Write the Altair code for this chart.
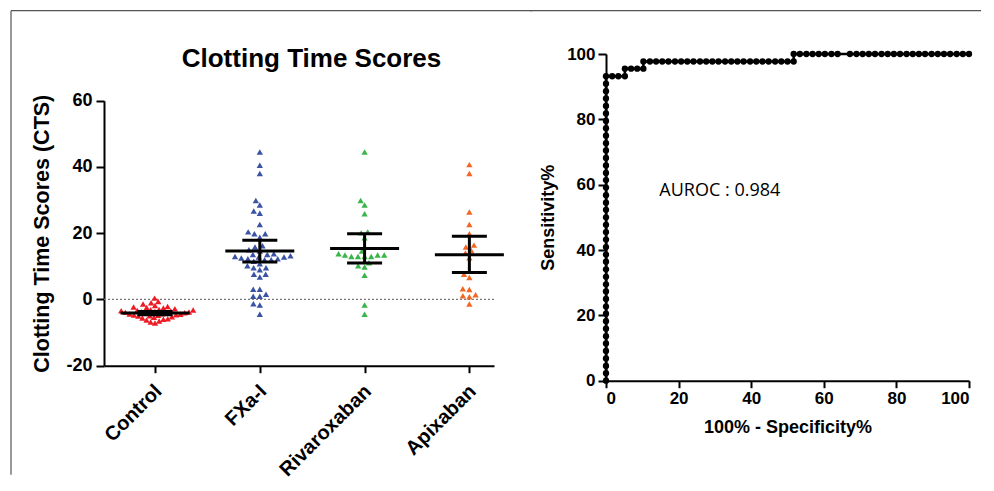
import math
import altair as alt
import pandas as pd

# ---------------- data ----------------
categories = ["Control", "FXa-I", "Rivaroxaban", "Apixaban"]
group_colors = ["#ed1c24", "#3a53a4", "#3ab54a", "#f26522"]

control_cts = [0.4, -0.6, -1.0, -1.4, -1.8, -2.1, -2.3, -2.6, -2.8, -3.0,
               -3.1, -3.3, -3.4, -3.5, -3.6, -3.7, -3.8, -3.9, -4.0, -4.1,
               -4.2, -4.3, -4.4, -4.5, -4.6, -4.7, -4.9, -5.0, -5.2, -5.4,
               -5.6, -5.8, -6.0, -6.2, -6.5, -6.8, -7.1, -3.2, -4.8, -2.4]
fxa_cts = [44.5, 40.5, 38.0, 29.9, 28.5, 26.7, 26.0, 22.6, 20.4, 19.8,
           19.8, 18.8, 16.2, 15.8, 15.0, 14.6, 13.8, 13.6, 13.6, 13.2,
           13.0, 12.8, 12.8, 12.5, 12.3, 12.3, 12.0, 12.0, 11.5, 10.8,
           10.2, 9.6, 9.6, 9.0, 7.6, 7.6, 6.8, 3.1, 3.1, 1.6,
           1.0, 1.0, -1.3, -1.7, -4.5]
riva_cts = [44.5, 29.9, 28.5, 25.9, 20.4, 20.1, 18.6, 14.6, 13.8, 13.4,
            13.0, 13.0, 13.4, 13.0, 13.0, 13.4, 11.1, 10.2, 9.8, 7.3,
            -1.7, -4.5]
apix_cts = [40.7, 38.0, 26.4, 22.6, 19.8, 16.4, 15.8, 14.8, 14.0, 12.6,
            7.6, 6.6, 3.2, 3.0, 1.4, 1.1, 0.8, -1.4]

group_means = [-4.1, 14.6, 15.4, 13.5]
group_err_low = [-4.6, 11.3, 11.0, 8.1]
group_err_high = [-3.6, 17.9, 19.8, 19.1]

chart_title = "Clotting Time Scores"
left_y_title = "Clotting Time Scores (CTS)"

roc_fpr = [0, 0, 0, 0, 0, 0, 0, 0, 0, 0,
           0, 0, 0, 0, 0, 0, 0, 0, 0, 0,
           0, 0, 0, 0, 0, 0, 0, 0, 0, 0,
           0, 0, 0, 0, 0, 0, 0, 0, 0, 0,
           0, 0,
           1.7, 3.4, 5.2,
           5.2, 6.9, 8.6, 10.3,
           10.3, 12.1, 13.8, 15.5, 17.2, 19.0, 20.7, 22.4, 24.1, 25.9,
           27.6, 29.3, 31.0, 32.8, 34.5, 36.2, 37.9, 39.7, 41.4, 43.1,
           44.8, 46.6, 48.3, 50.0, 51.7,
           51.7, 53.4, 55.2, 56.9, 58.6, 60.3, 62.1, 63.8, 67.2, 69.0,
           70.7, 72.4, 74.1, 75.9, 77.6, 79.3, 81.0, 82.8, 84.5, 86.2,
           87.9, 89.7, 91.4, 93.1, 94.8, 96.6, 98.3, 100.0]
roc_sens = [0.0, 2.3, 4.5, 6.8, 9.1, 11.4, 13.6, 15.9, 18.2, 20.5,
            22.7, 25.0, 27.3, 29.5, 31.8, 34.1, 36.4, 38.6, 40.9, 43.2,
            45.5, 47.7, 50.0, 52.3, 54.5, 56.8, 59.1, 61.4, 63.6, 65.9,
            68.2, 70.5, 72.7, 75.0, 77.3, 79.5, 81.8, 84.1, 86.4, 88.6,
            90.9, 93.2,
            93.2, 93.2, 93.2,
            95.5, 95.5, 95.5, 95.5,
            97.7, 97.7, 97.7, 97.7, 97.7, 97.7, 97.7, 97.7, 97.7, 97.7,
            97.7, 97.7, 97.7, 97.7, 97.7, 97.7, 97.7, 97.7, 97.7, 97.7,
            97.7, 97.7, 97.7, 97.7, 97.7,
            100, 100, 100, 100, 100, 100, 100, 100, 100, 100,
            100, 100, 100, 100, 100, 100, 100, 100, 100, 100,
            100, 100, 100, 100, 100, 100, 100, 100]
auroc = 0.984
roc_x_title = "100% - Specificity%"
roc_y_title = "Sensitivity%"

# ---------------- layout constants ----------------
FONT = "Liberation Sans"
TOP = 53.3                 # page y of the shared panel origin (right plot top)
LW = 390                   # left plot width
L_TOP, L_BOT = 100 - TOP, 365 - TOP   # left plot vertical extent inside its panel
LH = L_BOT                 # left panel height
RW, RH = 363, 380 - TOP    # right plot area
FRAME_Y = 10 - TOP
X_DOMAIN = [-0.487, 3.235]
Y_DOMAIN = [-20, 60]
step_px = LW / (X_DOMAIN[1] - X_DOMAIN[0])
ypx_per_unit = (L_BOT - L_TOP) / (Y_DOMAIN[1] - Y_DOMAIN[0])


def swarm(vals, dx=6.6, dy=5.8):
    """beeswarm horizontal offsets (px) so markers do not overlap"""
    order = sorted(range(len(vals)), key=lambda i: vals[i])
    placed = []
    offs = [0.0] * len(vals)
    for i in order:
        y = vals[i] * ypx_per_unit
        cands = [0.0]
        for px, py in placed:
            d = abs(py - y)
            if d < dy:
                w = dx * math.sqrt(1 - (d / dy) ** 2)
                cands += [px + w, px - w]
        cands.sort(key=lambda c: (abs(c), c))
        chosen = cands[-1]
        for c in cands:
            if all(((c - px) / dx) ** 2 + ((y - py) / dy) ** 2 >= 0.999
                   for px, py in placed):
                chosen = c
                break
        placed.append((chosen, y))
        offs[i] = chosen
    return offs


swarm_dx = [4.4, 6.6, 6.6, 6.6]
rows = []
for gi, (cat, vals) in enumerate(zip(categories, [control_cts, fxa_cts, riva_cts, apix_cts])):
    for v, o in zip(vals, swarm(vals, dx=swarm_dx[gi])):
        rows.append({"group": cat, "idx": gi, "cts": v, "xpos": gi + o / step_px})
pts = pd.DataFrame(rows)
stats = pd.DataFrame({"group": categories, "idx": list(range(len(categories))),
                      "mean": group_means, "lo": group_err_low, "hi": group_err_high})
one = pd.DataFrame({"a": [0]})

label_expr = "[" + ",".join("'" + c + "'" for c in categories) + "][datum.value]"

xs = alt.Scale(domain=X_DOMAIN, nice=False, zero=False)
ys = alt.Scale(domain=Y_DOMAIN, nice=False, zero=False, range=[L_BOT, L_TOP])

x_axis = alt.Axis(values=list(range(len(categories))), labelExpr=label_expr,
                  labelAngle=-45, title=None, grid=False, labelFontSize=20,
                  labelPadding=8, labelOffset=-4, tickSize=7)
y_axis = alt.Axis(values=[-20, 0, 20, 40, 60], labelExpr="'' + datum.value",
                  title=left_y_title, grid=False,
                  labelFontSize=18, titleFontSize=21.5, tickSize=8, labelPadding=4,
                  titlePadding=12)

zero_line = alt.Chart(one).mark_rule(color="#777777", strokeDash=[2, 2], strokeWidth=1.3).encode(
    y=alt.Y("z:Q", scale=ys, axis=y_axis)
).transform_calculate(z="0")

points = alt.Chart(pts).mark_point(shape="triangle-up", filled=True, size=40, opacity=1).encode(
    x=alt.X("xpos:Q", scale=xs, axis=x_axis),
    y=alt.Y("cts:Q", scale=ys, axis=y_axis),
    color=alt.Color("group:N", scale=alt.Scale(domain=categories, range=group_colors), legend=None),
)

mean_ticks = alt.Chart(stats).mark_tick(orient="horizontal", size=69, thickness=3,
                                        color="black", opacity=1).encode(
    x=alt.X("idx:Q", scale=xs, axis=x_axis), y=alt.Y("mean:Q", scale=ys, axis=y_axis))
err_rule = alt.Chart(stats).mark_rule(strokeWidth=3, color="black").encode(
    x=alt.X("idx:Q", scale=xs, axis=x_axis), y=alt.Y("lo:Q", scale=ys, axis=y_axis), y2="hi:Q")
cap_lo = alt.Chart(stats).mark_tick(orient="horizontal", size=35, thickness=3,
                                    color="black", opacity=1).encode(
    x=alt.X("idx:Q", scale=xs, axis=x_axis), y=alt.Y("lo:Q", scale=ys, axis=y_axis))
cap_hi = alt.Chart(stats).mark_tick(orient="horizontal", size=35, thickness=3,
                                    color="black", opacity=1).encode(
    x=alt.X("idx:Q", scale=xs, axis=x_axis), y=alt.Y("hi:Q", scale=ys, axis=y_axis))

frame_left_v = alt.Chart(one).mark_rule(color="#555555", strokeWidth=1.2).encode(
    x=alt.value(-93), y=alt.value(FRAME_Y), y2=alt.value(474 - TOP))
frame_left_h = alt.Chart(one).mark_rule(color="#555555", strokeWidth=1.2).encode(
    x=alt.value(-93), x2=alt.value(428.2), y=alt.value(FRAME_Y))
title_text = alt.Chart(one).mark_text(font=FONT, fontWeight="bold", fontSize=26,
                                      color="black", align="center", baseline="middle").encode(
    x=alt.value(207.5), y=alt.value(58 - TOP), text=alt.value(chart_title))

left = alt.layer(zero_line, points, err_rule, mean_ticks, cap_lo, cap_hi,
                 frame_left_v, frame_left_h, title_text).properties(width=LW, height=LH)

# ---------------- right ROC panel ----------------
roc = pd.DataFrame({"fpr": roc_fpr, "sens": roc_sens, "order": list(range(len(roc_fpr)))})
rx = alt.Scale(domain=[0, 100], nice=False)
ry = alt.Scale(domain=[0, 100], nice=False)
rx_axis = alt.Axis(values=[0, 20, 40, 60, 80, 100], title=roc_x_title, grid=False,
                   labelFontSize=17, titleFontSize=18, tickSize=7, labelPadding=3, titlePadding=12)
ry_axis = alt.Axis(values=[0, 20, 40, 60, 80, 100], title=roc_y_title, grid=False,
                   labelFontSize=17, titleFontSize=18, tickSize=8, labelPadding=3, titlePadding=9)

roc_line = alt.Chart(roc).mark_line(color="black", strokeWidth=2.5).encode(
    x=alt.X("fpr:Q", scale=rx, axis=rx_axis), y=alt.Y("sens:Q", scale=ry, axis=ry_axis), order="order:Q")
roc_pts = alt.Chart(roc).mark_circle(color="black", size=40, opacity=1).encode(
    x=alt.X("fpr:Q", scale=rx, axis=rx_axis), y=alt.Y("sens:Q", scale=ry, axis=ry_axis))
auroc_text = alt.Chart(one).mark_text(font="Open Sans", fontSize=18, color="black",
                                      align="left", baseline="middle").encode(
    x=alt.datum(14.7), y=alt.datum(58), text=alt.value("AUROC : " + str(auroc)))
frame_right_h = alt.Chart(one).mark_rule(color="#555555", strokeWidth=1.2).encode(
    x=alt.value(-76), x2=alt.value(375), y=alt.value(FRAME_Y))

right = alt.layer(roc_line, roc_pts, auroc_text, frame_right_h).properties(width=RW, height=RH)

chart = alt.hconcat(left, right, spacing=-4).properties(
    padding={"left": 2, "top": 2, "right": 2, "bottom": 2}
).configure_view(stroke=None).configure_axis(
    domainColor="black", domainWidth=2, tickColor="black", tickWidth=2,
    labelFont=FONT, labelFontWeight="bold", labelColor="black",
    titleFont=FONT, titleFontWeight="bold", titleColor="black",
)

chart.save("out.html", embed_options={"renderer": "svg", "actions": False})
